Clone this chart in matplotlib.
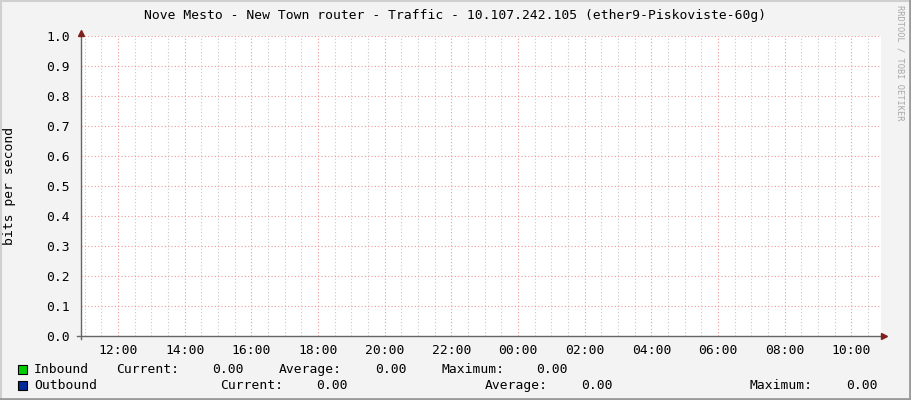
import matplotlib
matplotlib.use("Agg")
import matplotlib.pyplot as plt
from matplotlib.patches import Rectangle
from matplotlib.lines import Line2D
import numpy as np

# ---- data ----
title = "Nove Mesto - New Town router - Traffic - 10.107.242.105 (ether9-Piskoviste-60g)"
hours = [10.89, 14.0, 18.0, 22.0, 26.0, 30.0, 34.89]          # time axis (hours, >24 = next day)
inbound = [0, 0, 0, 0, 0, 0, 0]
outbound = [0, 0, 0, 0, 0, 0, 0]
xtick_pos = [12, 14, 16, 18, 20, 22, 24, 26, 28, 30, 32, 34]
xtick_labels = ["12:00", "14:00", "16:00", "18:00", "20:00", "22:00",
                "00:00", "02:00", "04:00", "06:00", "08:00", "10:00"]
ytick_pos = [0.0, 0.1, 0.2, 0.3, 0.4, 0.5, 0.6, 0.7, 0.8, 0.9, 1.0]
legend_names = ["Inbound", "Outbound"]
legend_colors = ["#00CC00", "#002A97"]
stat_current = [0.00, 0.00]
stat_average = [0.00, 0.00]
stat_maximum = [0.00, 0.00]

W, H = 911, 400
FONT = "DejaVu Sans Mono"
FS = 9.4
FST = 9.4
BG = "#F3F3F3"

fig = plt.figure(figsize=(W / 100, H / 100), dpi=100, facecolor=BG)

def fx(px):
    return px / W

def fy(py):
    return 1 - py / H

# outer border
fig.add_artist(Line2D([0, 1], [fy(0.5), fy(0.5)], color="#CFCFCF", lw=1.5, transform=fig.transFigure))
fig.add_artist(Line2D([fx(0.5), fx(0.5)], [0, 1], color="#CFCFCF", lw=1.5, transform=fig.transFigure))
fig.add_artist(Line2D([0, 1], [fy(399), fy(399)], color="#9A9A9A", lw=2, transform=fig.transFigure))
fig.add_artist(Line2D([fx(910), fx(910)], [0, 1], color="#9A9A9A", lw=2, transform=fig.transFigure))

x0, x1 = 81, 881
y0, y1 = 36, 336
ax = fig.add_axes([fx(x0), fy(y1), (x1 - x0) / W, (y1 - y0) / H])
ax.set_facecolor("white")
ax.set_xlim(hours[0], hours[-1])
ax.set_ylim(0, 1.0)

ax.fill_between(hours, inbound, color=legend_colors[0], lw=0)
ax.plot(hours, outbound, color=legend_colors[1], lw=0)

# minor grid (every 30 min)
minor = np.arange(11.0, hours[-1], 0.5)
for m in minor:
    if abs(m - round(m)) < 1e-9 and int(round(m)) % 2 == 0:
        continue
    ax.axvline(m, color="#C8C8C8", lw=0.8, ls=(0, (1, 2)), zorder=0.5)
for t in xtick_pos:
    ax.axvline(t, color="#F29A9A", lw=0.8, ls=(0, (1, 2)), zorder=0.6)
for t in ytick_pos[1:]:
    ax.axhline(t, color="#F29A9A", lw=0.8, ls=(0, (1, 2)), zorder=0.6)

for s in ax.spines.values():
    s.set_visible(False)
ax.set_xticks(xtick_pos)
ax.set_xticklabels(xtick_labels, fontfamily=FONT, fontsize=FST, color="#000000")
ax.set_yticks(ytick_pos)
ax.set_yticklabels([f"{v:.1f}" for v in ytick_pos], fontfamily=FONT, fontsize=FST, color="#000000")
ax.tick_params(axis="x", length=0, pad=6)
ax.tick_params(axis="y", length=0, pad=8)

# axis lines with arrows
ax.add_artist(Line2D([-4 / 800, 1.0], [0, 0], color="#666666", lw=1, transform=ax.transAxes, clip_on=False))
ax.add_artist(Line2D([0, 0], [-3 / 300, 1.0], color="#666666", lw=1, transform=ax.transAxes, clip_on=False))
ax.plot([1.0 + 3 / 800], [0], marker=">", ms=5, color="#7F1F1F", transform=ax.transAxes, clip_on=False)
ax.plot([0], [1.0 + 3 / 300], marker="^", ms=5, color="#7F1F1F", transform=ax.transAxes, clip_on=False)

fig.text(fx(10), fy(186), "bits per second", rotation=90, ha="center", va="center",
         fontfamily=FONT, fontsize=FS)

fig.text(fx(455), fy(19), title, ha="center", va="baseline", fontfamily=FONT, fontsize=FS)
fig.text(fx(900), fy(5), "RRDTOOL / TOBI OETIKER", ha="center", va="top", rotation=-90,
         fontfamily=FONT, fontsize=6.2, color="#A8A8A8")

# legend
rows_y = [373, 389]
col_x = [
    [116, 244, 279, 407, 441, 568],
    [220, 348, 485, 613, 750, 878],
]
for i, name in enumerate(legend_names):
    yb = rows_y[i]
    fig.add_artist(Rectangle((fx(18), fy(yb + 1)), 9 / W, 9 / H, facecolor=legend_colors[i],
                             edgecolor="black", lw=0.8, transform=fig.transFigure))
    fig.text(fx(34), fy(yb), name, ha="left", va="baseline", fontfamily=FONT, fontsize=FS)
    cx = col_x[i]
    fig.text(fx(cx[0]), fy(yb), "Current:", ha="left", va="baseline", fontfamily=FONT, fontsize=FS)
    fig.text(fx(cx[1]), fy(yb), f"{stat_current[i]:.2f}", ha="right", va="baseline", fontfamily=FONT, fontsize=FS)
    fig.text(fx(cx[2]), fy(yb), "Average:", ha="left", va="baseline", fontfamily=FONT, fontsize=FS)
    fig.text(fx(cx[3]), fy(yb), f"{stat_average[i]:.2f}", ha="right", va="baseline", fontfamily=FONT, fontsize=FS)
    fig.text(fx(cx[4]), fy(yb), "Maximum:", ha="left", va="baseline", fontfamily=FONT, fontsize=FS)
    fig.text(fx(cx[5]), fy(yb), f"{stat_maximum[i]:.2f}", ha="right", va="baseline", fontfamily=FONT, fontsize=FS)

fig.savefig("out.png", dpi=100, facecolor=BG)
